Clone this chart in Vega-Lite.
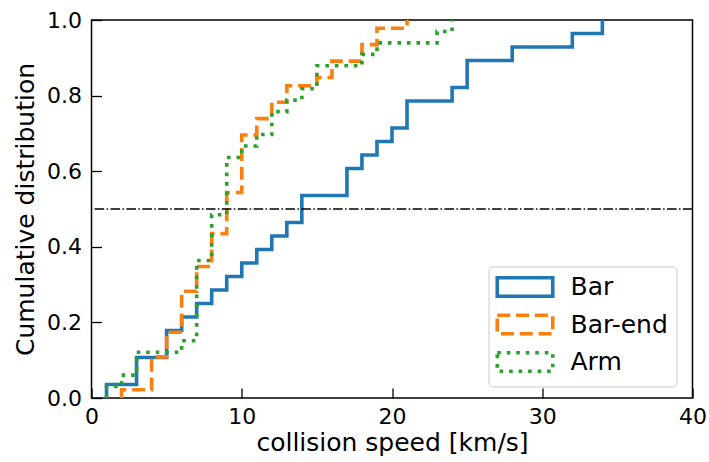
{
  "$schema": "https://vega.github.io/schema/vega-lite/v6.json",
  "width": 601,
  "height": 378,
  "autosize": {"type": "none"},
  "padding": {"left": 91.5, "top": 20, "right": 16.5, "bottom": 64},
  "background": "white",
  "config": {
    "view": {"stroke": "black", "strokeWidth": 1.5},
    "font": "DejaVu Sans",
    "axis": {
      "grid": false, "domain": false, "tickColor": "black", "tickWidth": 1.3, "tickSize": -10,
      "labelColor": "black", "titleColor": "black", "labelFontSize": 22, "titleFontSize": 25,
      "titleFontWeight": "normal", "labelFont": "DejaVu Sans", "titleFont": "DejaVu Sans",
      "labelFlush": false, "labelOverlap": false
    }
  },
  "layer": [
    {
      "data": {"values": [
        {"type": "Bar", "i": 0, "speed": 1, "cdf": 0},
        {"type": "Bar", "i": 1, "speed": 1, "cdf": 0.0357},
        {"type": "Bar", "i": 2, "speed": 3, "cdf": 0.1071},
        {"type": "Bar", "i": 3, "speed": 5, "cdf": 0.1786},
        {"type": "Bar", "i": 4, "speed": 6, "cdf": 0.2143},
        {"type": "Bar", "i": 5, "speed": 7, "cdf": 0.25},
        {"type": "Bar", "i": 6, "speed": 8, "cdf": 0.2857},
        {"type": "Bar", "i": 7, "speed": 9, "cdf": 0.3214},
        {"type": "Bar", "i": 8, "speed": 10, "cdf": 0.3571},
        {"type": "Bar", "i": 9, "speed": 11, "cdf": 0.3929},
        {"type": "Bar", "i": 10, "speed": 12, "cdf": 0.4286},
        {"type": "Bar", "i": 11, "speed": 13, "cdf": 0.4643},
        {"type": "Bar", "i": 12, "speed": 14, "cdf": 0.5357},
        {"type": "Bar", "i": 13, "speed": 17, "cdf": 0.6071},
        {"type": "Bar", "i": 14, "speed": 18, "cdf": 0.6429},
        {"type": "Bar", "i": 15, "speed": 19, "cdf": 0.6786},
        {"type": "Bar", "i": 16, "speed": 20, "cdf": 0.7143},
        {"type": "Bar", "i": 17, "speed": 21, "cdf": 0.7857},
        {"type": "Bar", "i": 18, "speed": 24, "cdf": 0.8214},
        {"type": "Bar", "i": 19, "speed": 25, "cdf": 0.8929},
        {"type": "Bar", "i": 20, "speed": 28, "cdf": 0.9286},
        {"type": "Bar", "i": 21, "speed": 32, "cdf": 0.9643},
        {"type": "Bar", "i": 22, "speed": 34, "cdf": 1.0},
        {"type": "Bar-end", "i": 0, "speed": 2, "cdf": 0},
        {"type": "Bar-end", "i": 1, "speed": 2, "cdf": 0.0217},
        {"type": "Bar-end", "i": 2, "speed": 4, "cdf": 0.1087},
        {"type": "Bar-end", "i": 3, "speed": 5, "cdf": 0.1739},
        {"type": "Bar-end", "i": 4, "speed": 6, "cdf": 0.2826},
        {"type": "Bar-end", "i": 5, "speed": 7, "cdf": 0.3478},
        {"type": "Bar-end", "i": 6, "speed": 8, "cdf": 0.4348},
        {"type": "Bar-end", "i": 7, "speed": 9, "cdf": 0.5435},
        {"type": "Bar-end", "i": 8, "speed": 10, "cdf": 0.6957},
        {"type": "Bar-end", "i": 9, "speed": 11, "cdf": 0.7391},
        {"type": "Bar-end", "i": 10, "speed": 12, "cdf": 0.7826},
        {"type": "Bar-end", "i": 11, "speed": 13, "cdf": 0.8261},
        {"type": "Bar-end", "i": 12, "speed": 15, "cdf": 0.8478},
        {"type": "Bar-end", "i": 13, "speed": 16, "cdf": 0.8913},
        {"type": "Bar-end", "i": 14, "speed": 18, "cdf": 0.9348},
        {"type": "Bar-end", "i": 15, "speed": 19, "cdf": 0.9783},
        {"type": "Bar-end", "i": 16, "speed": 21, "cdf": 1.0},
        {"type": "Arm", "i": 0, "speed": 1, "cdf": 0},
        {"type": "Arm", "i": 1, "speed": 1, "cdf": 0.0303},
        {"type": "Arm", "i": 2, "speed": 2, "cdf": 0.0606},
        {"type": "Arm", "i": 3, "speed": 3, "cdf": 0.1212},
        {"type": "Arm", "i": 4, "speed": 6, "cdf": 0.1515},
        {"type": "Arm", "i": 5, "speed": 7, "cdf": 0.3636},
        {"type": "Arm", "i": 6, "speed": 8, "cdf": 0.4848},
        {"type": "Arm", "i": 7, "speed": 9, "cdf": 0.6364},
        {"type": "Arm", "i": 8, "speed": 10, "cdf": 0.6667},
        {"type": "Arm", "i": 9, "speed": 11, "cdf": 0.6970},
        {"type": "Arm", "i": 10, "speed": 12, "cdf": 0.7576},
        {"type": "Arm", "i": 11, "speed": 13, "cdf": 0.7879},
        {"type": "Arm", "i": 12, "speed": 14, "cdf": 0.8182},
        {"type": "Arm", "i": 13, "speed": 15, "cdf": 0.8788},
        {"type": "Arm", "i": 14, "speed": 18, "cdf": 0.9091},
        {"type": "Arm", "i": 15, "speed": 19, "cdf": 0.9394},
        {"type": "Arm", "i": 16, "speed": 23, "cdf": 0.9697},
        {"type": "Arm", "i": 17, "speed": 24, "cdf": 1.0}
      ]},
      "mark": {"type": "line", "interpolate": "step-after", "strokeWidth": 3.6, "strokeCap": "butt", "strokeJoin": "miter"},
      "encoding": {
        "x": {"field": "speed", "type": "quantitative", "scale": {"domain": [0, 40]},
              "axis": {"values": [0, 10, 20, 30, 40], "title": "collision speed [km/s]", "labelPadding": 18, "titlePadding": 3}},
        "y": {"field": "cdf", "type": "quantitative", "scale": {"domain": [0, 1]},
              "axis": {"values": [0, 0.2, 0.4, 0.6, 0.8, 1.0], "format": ".1f", "title": "Cumulative distribution", "labelPadding": 20,
                       "titleX": -58.5, "titleY": 189, "titleAngle": -90, "titleAlign": "center", "titleBaseline": "alphabetic"}},
        "color": {"field": "type", "type": "nominal",
                  "scale": {"domain": ["Bar", "Bar-end", "Arm"], "range": ["#1f77b4", "#ff7f0e", "#2ca02c"]},
                  "legend": {"title": null, "orient": "none", "legendX": 397, "legendY": 246.5,
                             "symbolType": "M-3,-1H3V1H-3Z", "symbolSize": 342, "symbolStrokeWidth": 3.6,
                             "symbolOffset": 16,
                             "labelFontSize": 25, "labelColor": "black", "labelOffset": 33, "padding": 8, "rowPadding": 4.5,
                             "fillColor": "white", "strokeColor": "#cccccc", "cornerRadius": 4,
                             "symbolFillColor": "transparent"}},
        "strokeDash": {"field": "type", "type": "nominal",
                       "scale": {"domain": ["Bar", "Bar-end", "Arm"], "range": [[1, 0], [13, 5.8], [3.6, 5.9]]}},
        "order": {"field": "i", "type": "quantitative"}
      }
    },
    {
      "data": {"values": [{"level": 0.5}]},
      "mark": {"type": "rule", "color": "black", "strokeWidth": 1.4, "strokeDash": [9.6, 2.4, 1.5, 2.4]},
      "encoding": {"y": {"field": "level", "type": "quantitative"}}
    }
  ]
}
